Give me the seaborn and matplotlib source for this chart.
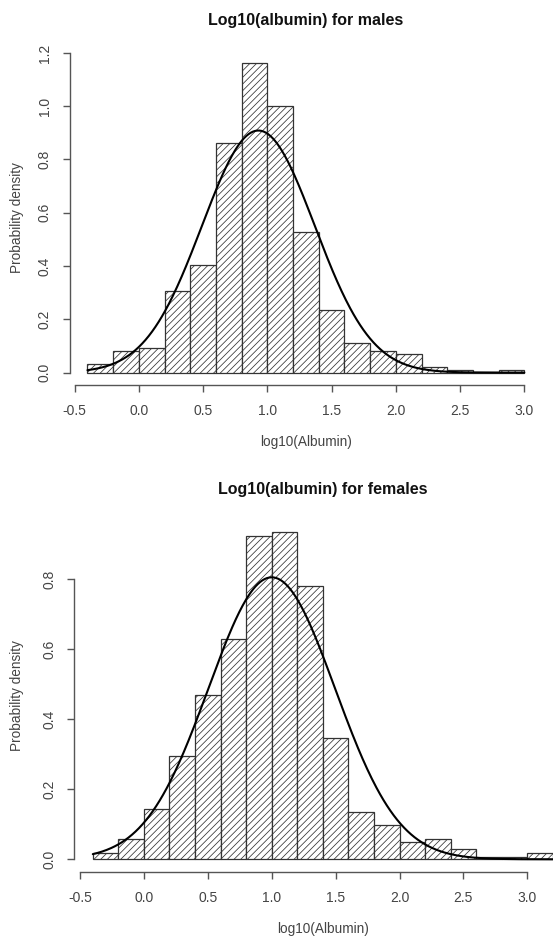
import numpy as np
import pandas as pd
import seaborn as sns
import matplotlib
matplotlib.use("Agg")
import matplotlib.pyplot as plt

# ---------------- data ----------------
male_edges = [-0.4, -0.2, 0.0, 0.2, 0.4, 0.6, 0.8, 1.0, 1.2, 1.4, 1.6, 1.8,
              2.0, 2.2, 2.4, 2.6, 2.8, 3.0]
male_density = [0.031, 0.082, 0.092, 0.306, 0.404, 0.862, 1.163, 1.000, 0.527,
                0.235, 0.111, 0.082, 0.070, 0.021, 0.010, 0.003, 0.011]
male_mean = 0.93
male_sd = 0.439

female_edges = [-0.4, -0.2, 0.0, 0.2, 0.4, 0.6, 0.8, 1.0, 1.2, 1.4, 1.6, 1.8,
                2.0, 2.2, 2.4, 2.6, 2.8, 3.0, 3.2]
female_density = [0.019, 0.058, 0.144, 0.296, 0.471, 0.630, 0.925, 0.936, 0.782,
                  0.346, 0.134, 0.097, 0.049, 0.058, 0.029, 0.008, 0.008, 0.019]
female_mean = 1.0
female_sd = 0.495

x_ticks = [-0.5, 0.0, 0.5, 1.0, 1.5, 2.0, 2.5, 3.0]
x_tick_labels = ["-0.5", "0.0", "0.5", "1.0", "1.5", "2.0", "2.5", "3.0"]
male_y_ticks = [0.0, 0.2, 0.4, 0.6, 0.8, 1.0, 1.2]
female_y_ticks = [0.0, 0.2, 0.4, 0.6, 0.8]

titles = ["Log10(albumin) for males", "Log10(albumin) for females"]
x_label = "log10(Albumin)"
y_label = "Probability density"

# ---------------- style ----------------
sns.set_style("ticks")
plt.rcParams["font.family"] = ["Liberation Sans", "DejaVu Sans"]
plt.rcParams["hatch.linewidth"] = 0.55
plt.rcParams["hatch.color"] = "#333333"

W, H = 553, 939
fig = plt.figure(figsize=(W / 100, H / 100), dpi=100)
fig.patch.set_facecolor("white")

AX_COL = "#555555"
TXT_COL = "#444444"


def px_axes(left, right, top, bottom):
    return fig.add_axes([left / W, 1 - bottom / H, (right - left) / W, (bottom - top) / H])


panels = [
    dict(edges=male_edges, dens=male_density, mu=male_mean, sd=male_sd,
         yt=male_y_ticks, title=titles[0], rect=(70, 541.8, 50.4, 385.0)),
    dict(edges=female_edges, dens=female_density, mu=female_mean, sd=female_sd,
         yt=female_y_ticks, title=titles[1], rect=(74.4, 571.3, 518.7, 872.4)),
]

for p in panels:
    ax = px_axes(*p["rect"])
    ax.set_facecolor("white")
    edges = list(p["edges"])
    dens = list(p["dens"])
    centers = [(a + b) / 2 for a, b in zip(edges[:-1], edges[1:])]
    df = pd.DataFrame({"x": centers, "w": dens})
    sns.histplot(data=df, x="x", weights="w", bins=edges, stat="count",
                 ax=ax, color="white", edgecolor="#333333", linewidth=0.9,
                 alpha=1.0)
    for patch in ax.patches:
        patch.set_facecolor("white")
        patch.set_edgecolor("#333333")
        patch.set_hatch("/////")

    # fitted normal density curve
    xs = np.linspace(edges[0], edges[-1], 400)
    ys = np.exp(-0.5 * ((xs - p["mu"]) / p["sd"]) ** 2) / (p["sd"] * np.sqrt(2 * np.pi))
    sns.lineplot(x=xs, y=ys, ax=ax, color="black", linewidth=1.5)

    span = edges[-1] - edges[0]
    ax.set_xlim(edges[0] - 0.04 * span, edges[-1] + 0.04 * span)
    ymax = max(dens)
    ax.set_ylim(-0.04 * ymax, 1.04 * ymax)

    ax.set_xticks(x_ticks)
    ax.set_xticklabels(x_tick_labels)
    ax.set_yticks(p["yt"])
    ax.set_yticklabels([f"{v:.1f}" for v in p["yt"]], rotation=90, va="center")

    for s in ["top", "right"]:
        ax.spines[s].set_visible(False)
    ax.spines["left"].set_bounds(p["yt"][0], p["yt"][-1])
    ax.spines["bottom"].set_bounds(x_ticks[0], x_ticks[-1])
    for s in ["left", "bottom"]:
        ax.spines[s].set_color(AX_COL)
        ax.spines[s].set_linewidth(1.0)

    ax.tick_params(axis="both", length=5, width=1.0, color=AX_COL,
                   labelcolor=TXT_COL, labelsize=10)
    ax.tick_params(axis="x", pad=8.5)
    ax.tick_params(axis="y", pad=8)

    ax.set_xlabel(x_label, fontsize=9.8, color=TXT_COL)
    ax.set_ylabel(y_label, fontsize=9.8, color=TXT_COL)
    l, r, t, b = p["rect"]
    ax.xaxis.set_label_coords(0.5, -(50.0) / (b - t))
    ax.yaxis.set_label_coords((24 - l) / (r - l), 0.5)

    ax.set_title(p["title"], fontsize=11.5, fontweight="bold", color="#111111", pad=18)
    ax.grid(False)

fig.savefig("out.png", dpi=100, facecolor="white")
